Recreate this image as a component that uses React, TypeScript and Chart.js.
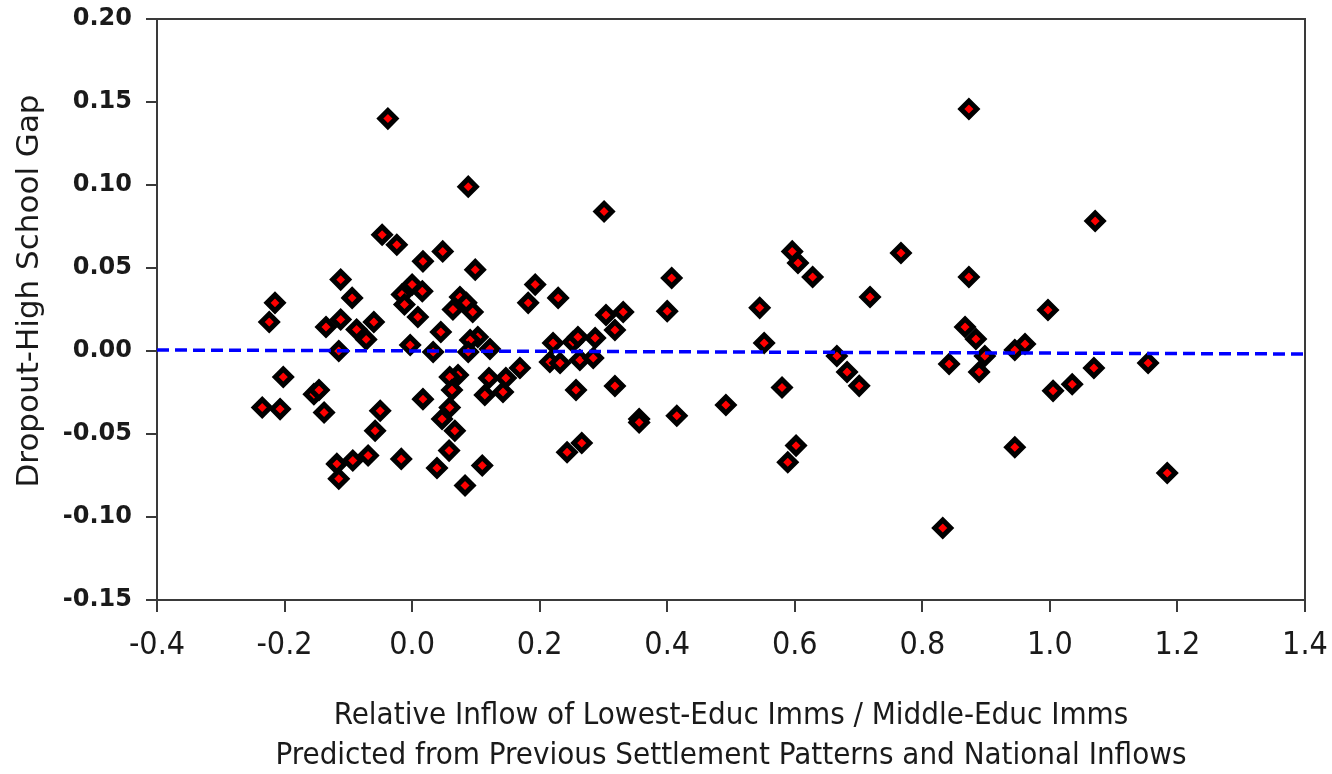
import React, { useEffect, useRef } from "react";
import Chart from "chart.js/auto";

const xValues: number[] = [
  -0.038, -0.047, -0.024, 0.088, 0.301, 0.017, 0.048, -0.112, -0.094, -0.215,
  -0.224, -0.135, -0.112, -0.087, -0.072, -0.06, -0.115, -0.016, -0.012, 0.0,
  0.016, 0.009, -0.003, 0.099, 0.075, 0.085, 0.064, 0.095, 0.045, 0.033,
  0.103, 0.091, 0.088, 0.122, -0.202, -0.154, -0.146, -0.235, -0.207, -0.138,
  -0.05, -0.058, -0.069, -0.093, -0.118, -0.115, -0.017, 0.072, 0.059, 0.0625,
  0.017, 0.059, 0.047, 0.067, 0.058, 0.039, 0.11, 0.083, 0.1205, 0.147,
  0.169, 0.114, 0.1425, 0.193, 0.182, 0.229, 0.221, 0.216, 0.232, 0.252,
  0.26, 0.287, 0.263, 0.284, 0.304, 0.331, 0.318, 0.257, 0.318, 0.356,
  0.356, 0.415, 0.243, 0.266, 0.407, 0.4, 0.596, 0.605, 0.628, 0.7665,
  0.718, 0.873, 0.545, 0.552, 0.666, 0.682, 0.701, 0.58, 0.492, 0.867,
  0.884, 0.898, 0.842, 0.889, 0.945, 0.945, 0.602, 0.589, 0.832, 0.873,
  1.071, 0.997, 0.961, 1.154, 1.069, 1.035, 1.005, 1.184,
];

const yValues: number[] = [
  0.14, 0.07, 0.064, 0.099, 0.084, 0.054, 0.06, 0.043, 0.032, 0.029,
  0.0175, 0.0145, 0.019, 0.013, 0.007, 0.0175, 0.0, 0.034, 0.028, 0.04,
  0.036, 0.0205, 0.0036, 0.049, 0.0325, 0.029, 0.025, 0.0235, 0.0114, -0.0006,
  0.0084, 0.0066, -0.0006, 0.0012, -0.0157, -0.026, -0.0235, -0.034, -0.035, -0.037,
  -0.036, -0.048, -0.063, -0.066, -0.068, -0.077, -0.065, -0.0145, -0.0157, -0.0235,
  -0.029, -0.034, -0.041, -0.048, -0.06, -0.0705, -0.069, -0.081, -0.0163, -0.0163,
  -0.0102, -0.0265, -0.0247, 0.04, 0.029, 0.032, 0.0048, -0.0066, -0.0072, 0.0054,
  0.0084, 0.0078, -0.0054, -0.0042, 0.0217, 0.0235, 0.0127, -0.0235, -0.0211, -0.041,
  -0.043, -0.039, -0.061, -0.0554, 0.044, 0.024, 0.06, 0.053, 0.0446, 0.059,
  0.0325, 0.0446, 0.026, 0.0048, -0.003, -0.0127, -0.021, -0.022, -0.0325, 0.0145,
  0.0072, -0.003, -0.0078, -0.0127, 0.0006, -0.058, -0.057, -0.067, -0.1066, 0.1458,
  0.0783, 0.0247, 0.0042, -0.0072, -0.0102, -0.02, -0.024, -0.0735,
];

const fitX: number[] = [-0.4, 1.4];
const fitY: number[] = [0.0006, -0.0018];

const xTitle: string[] = [
  "Relative Inflow of Lowest-Educ Imms / Middle-Educ Imms",
  "Predicted from Previous Settlement Patterns and National Inflows",
];
const yTitle = "Dropout-High School Gap";

const frameColor = "#3a3a3a";
const textColor = "#1a1a1a";

const framePlugin = {
  id: "frame",
  beforeDatasetsDraw(chart: any) {
    const { ctx, chartArea } = chart;
    ctx.save();
    ctx.strokeStyle = frameColor;
    ctx.lineWidth = 2;
    ctx.beginPath();
    ctx.moveTo(chartArea.left, chartArea.top);
    ctx.lineTo(chartArea.right, chartArea.top);
    ctx.lineTo(chartArea.right, chartArea.bottom + 12);
    ctx.stroke();
    ctx.restore();
  },
  afterDraw(chart: any) {
    const { ctx } = chart;
    ctx.save();
    ctx.translate(30, 291);
    ctx.rotate(-Math.PI / 2);
    ctx.fillStyle = textColor;
    ctx.font = "31px 'DejaVu Sans', sans-serif";
    ctx.textAlign = "center";
    ctx.textBaseline = "middle";
    ctx.fillText(yTitle, 0, 0);
    ctx.restore();
  },
};

const fmt = (v: any, d: number) => {
  const n = Number(v);
  return (Math.abs(n) < 1e-9 ? 0 : n).toFixed(d);
};

const zeroPadding = (s: any) => {
  s.paddingTop = 0;
  s.paddingBottom = 0;
  s.paddingLeft = 0;
  s.paddingRight = 0;
};

export default function App() {
  const ref = useRef<HTMLCanvasElement>(null);
  useEffect(() => {
    if (!ref.current) return;
    const points = xValues.map((x, i) => ({ x, y: yValues[i] }));
    const fit = fitX.map((x, i) => ({ x, y: fitY[i] }));
    const chart = new Chart(ref.current, {
      type: "scatter",
      data: {
        datasets: [
          {
            type: "line",
            data: fit,
            borderColor: "#0000ff",
            borderWidth: 3.5,
            borderDash: [12, 6],
            pointRadius: 0,
            fill: false,
            order: 0,
          } as any,
          {
            type: "scatter",
            data: points,
            pointStyle: "rectRot",
            pointRadius: 8,
            pointHoverRadius: 8,
            backgroundColor: "#ff0000",
            borderColor: "#000000",
            borderWidth: 5,
            order: 1,
          },
        ],
      },
      options: {
        animation: false,
        responsive: false,
        maintainAspectRatio: false,
        layout: { padding: { top: 19, right: 27, left: 0, bottom: -2 } },
        plugins: {
          legend: { display: false },
          tooltip: { enabled: false },
        },
        scales: {
          x: {
            type: "linear",
            min: -0.4,
            max: 1.4,
            afterFit: (s: any) => {
              s.height = 176;
              zeroPadding(s);
            },
            ticks: {
              stepSize: 0.2,
              padding: 14,
              color: textColor,
              font: { family: "'Liberation Sans Narrow', 'DejaVu Sans Condensed', sans-serif", size: 32 },
              callback: (v: any) => fmt(v, 1),
            },
            grid: {
              display: true,
              drawOnChartArea: false,
              drawTicks: true,
              tickLength: 12,
              color: frameColor,
              lineWidth: 2,
            },
            border: { display: true, color: frameColor, width: 2 },
            title: {
              display: true,
              text: xTitle,
              color: textColor,
              font: { family: "'Liberation Sans Narrow', 'DejaVu Sans Condensed', sans-serif", size: 31, lineHeight: 1.29 },
              padding: { top: 0, bottom: 0 },
            },
          },
          y: {
            type: "linear",
            min: -0.15,
            max: 0.2,
            afterFit: (s: any) => {
              s.width = 157;
              zeroPadding(s);
            },
            ticks: {
              stepSize: 0.05,
              padding: 14,
              color: textColor,
              font: { family: "'DejaVu Sans', sans-serif", size: 24, weight: "bold" },
              callback: (v: any) => fmt(v, 2),
            },
            grid: {
              display: true,
              drawOnChartArea: false,
              drawTicks: true,
              tickLength: 11,
              color: frameColor,
              lineWidth: 2,
            },
            border: { display: true, color: frameColor, width: 2 },
          },
        },
      },
      plugins: [framePlugin],
    });
    return () => chart.destroy();
  }, []);
  return (
    <div style={{ position: "fixed", left: 0, top: 0, width: 1332, height: 774, background: "#fff" }}>
      <canvas ref={ref} width={1332} height={774} style={{ width: 1332, height: 774 }} />
    </div>
  );
}
